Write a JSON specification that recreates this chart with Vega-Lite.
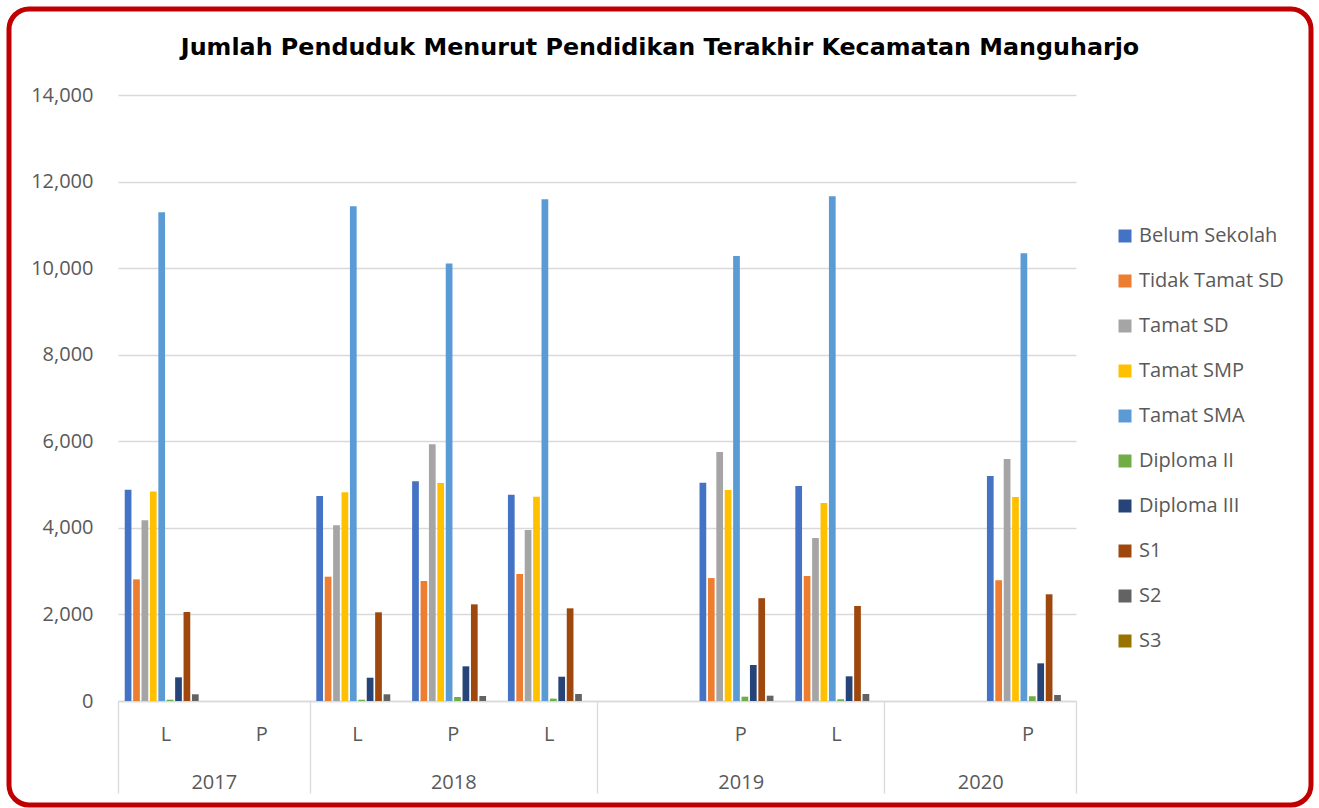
{
  "$schema": "https://vega.github.io/schema/vega-lite/v6.json",
  "width": 1302,
  "height": 796,
  "autosize": "none",
  "padding": {"left": 9, "top": 9, "right": 8, "bottom": 3},
  "background": "white",
  "title": {
    "text": "Jumlah Penduduk Menurut Pendidikan Terakhir Kecamatan Manguharjo",
    "font": "DejaVu Sans",
    "fontSize": 23.8,
    "fontWeight": "bold",
    "color": "#000000",
    "anchor": "middle",
    "frame": "group",
    "offset": -51
  },
  "datasets": {
    "edu": [
      {"slot": "2017-1", "series": "Belum Sekolah", "value": 4880},
      {"slot": "2017-1", "series": "Tidak Tamat SD", "value": 2810},
      {"slot": "2017-1", "series": "Tamat SD", "value": 4175},
      {"slot": "2017-1", "series": "Tamat SMP", "value": 4840},
      {"slot": "2017-1", "series": "Tamat SMA", "value": 11290},
      {"slot": "2017-1", "series": "Diploma II", "value": 30},
      {"slot": "2017-1", "series": "Diploma III", "value": 547},
      {"slot": "2017-1", "series": "S1", "value": 2056},
      {"slot": "2017-1", "series": "S2", "value": 155},
      {"slot": "2017-1", "series": "S3", "value": 0},

      {"slot": "2018-1", "series": "Belum Sekolah", "value": 4736},
      {"slot": "2018-1", "series": "Tidak Tamat SD", "value": 2872},
      {"slot": "2018-1", "series": "Tamat SD", "value": 4059},
      {"slot": "2018-1", "series": "Tamat SMP", "value": 4821},
      {"slot": "2018-1", "series": "Tamat SMA", "value": 11430},
      {"slot": "2018-1", "series": "Diploma II", "value": 30},
      {"slot": "2018-1", "series": "Diploma III", "value": 538},
      {"slot": "2018-1", "series": "S1", "value": 2049},
      {"slot": "2018-1", "series": "S2", "value": 155},
      {"slot": "2018-1", "series": "S3", "value": 0},

      {"slot": "2018-2", "series": "Belum Sekolah", "value": 5075},
      {"slot": "2018-2", "series": "Tidak Tamat SD", "value": 2772},
      {"slot": "2018-2", "series": "Tamat SD", "value": 5930},
      {"slot": "2018-2", "series": "Tamat SMP", "value": 5036},
      {"slot": "2018-2", "series": "Tamat SMA", "value": 10110},
      {"slot": "2018-2", "series": "Diploma II", "value": 92},
      {"slot": "2018-2", "series": "Diploma III", "value": 801},
      {"slot": "2018-2", "series": "S1", "value": 2233},
      {"slot": "2018-2", "series": "S2", "value": 115},
      {"slot": "2018-2", "series": "S3", "value": 0},

      {"slot": "2018-3", "series": "Belum Sekolah", "value": 4766},
      {"slot": "2018-3", "series": "Tidak Tamat SD", "value": 2934},
      {"slot": "2018-3", "series": "Tamat SD", "value": 3950},
      {"slot": "2018-3", "series": "Tamat SMP", "value": 4720},
      {"slot": "2018-3", "series": "Tamat SMA", "value": 11590},
      {"slot": "2018-3", "series": "Diploma II", "value": 55},
      {"slot": "2018-3", "series": "Diploma III", "value": 561},
      {"slot": "2018-3", "series": "S1", "value": 2141},
      {"slot": "2018-3", "series": "S2", "value": 162},
      {"slot": "2018-3", "series": "S3", "value": 0},

      {"slot": "2019-2", "series": "Belum Sekolah", "value": 5040},
      {"slot": "2019-2", "series": "Tidak Tamat SD", "value": 2840},
      {"slot": "2019-2", "series": "Tamat SD", "value": 5755},
      {"slot": "2019-2", "series": "Tamat SMP", "value": 4875},
      {"slot": "2019-2", "series": "Tamat SMA", "value": 10280},
      {"slot": "2019-2", "series": "Diploma II", "value": 100},
      {"slot": "2019-2", "series": "Diploma III", "value": 832},
      {"slot": "2019-2", "series": "S1", "value": 2375},
      {"slot": "2019-2", "series": "S2", "value": 123},
      {"slot": "2019-2", "series": "S3", "value": 0},

      {"slot": "2019-3", "series": "Belum Sekolah", "value": 4965},
      {"slot": "2019-3", "series": "Tidak Tamat SD", "value": 2888},
      {"slot": "2019-3", "series": "Tamat SD", "value": 3766},
      {"slot": "2019-3", "series": "Tamat SMP", "value": 4574},
      {"slot": "2019-3", "series": "Tamat SMA", "value": 11660},
      {"slot": "2019-3", "series": "Diploma II", "value": 40},
      {"slot": "2019-3", "series": "Diploma III", "value": 570},
      {"slot": "2019-3", "series": "S1", "value": 2195},
      {"slot": "2019-3", "series": "S2", "value": 162},
      {"slot": "2019-3", "series": "S3", "value": 0},

      {"slot": "2020-2", "series": "Belum Sekolah", "value": 5198},
      {"slot": "2020-2", "series": "Tidak Tamat SD", "value": 2790},
      {"slot": "2020-2", "series": "Tamat SD", "value": 5590},
      {"slot": "2020-2", "series": "Tamat SMP", "value": 4713},
      {"slot": "2020-2", "series": "Tamat SMA", "value": 10345},
      {"slot": "2020-2", "series": "Diploma II", "value": 108},
      {"slot": "2020-2", "series": "Diploma III", "value": 870},
      {"slot": "2020-2", "series": "S1", "value": 2465},
      {"slot": "2020-2", "series": "S2", "value": 139},
      {"slot": "2020-2", "series": "S3", "value": 0}
    ]
  },
  "layer": [
    {
      "data": {"name": "edu"},
      "mark": {"type": "bar"},
      "encoding": {
        "x": {
          "field": "slot",
          "type": "nominal",
          "scale": {
            "domain": ["2017-1", "2017-2", "2018-1", "2018-2", "2018-3", "2019-1", "2019-2", "2019-3", "2020-1", "2020-2"],
            "range": [109, 1067],
            "paddingInner": 0,
            "paddingOuter": 0
          },
          "axis": {
            "title": null,
            "orient": "bottom",
            "offset": -104,
            "labelExpr": "['L','P','L','P','L','','P','L','','P'][indexof(['2017-1','2017-2','2018-1','2018-2','2018-3','2019-1','2019-2','2019-3','2020-1','2020-2'], datum.value)]",
            "labelAngle": 0,
            "ticks": false,
            "domain": true,
            "domainColor": "#d9d9d9",
            "domainWidth": 1.3,
            "labelPadding": 23,
            "grid": false
          }
        },
        "xOffset": {
          "field": "series",
          "type": "nominal",
          "scale": {
            "domain": ["Belum Sekolah", "Tidak Tamat SD", "Tamat SD", "Tamat SMP", "Tamat SMA", "Diploma II", "Diploma III", "S1", "S2", "S3"],
            "paddingInner": 0.2,
            "paddingOuter": 0.8
          }
        },
        "y": {
          "field": "value",
          "type": "quantitative",
          "scale": {"domain": [0, 14000], "nice": false, "range": [692, 86]},
          "axis": {
            "title": null,
            "orient": "left",
            "offset": -109,
            "values": [0, 2000, 4000, 6000, 8000, 10000, 12000, 14000],
            "format": ",d",
            "domain": false,
            "ticks": false,
            "labelPadding": 25,
            "grid": true,
            "gridColor": "#d9d9d9",
            "gridWidth": 1.3
          }
        },
        "color": {
          "field": "series",
          "type": "nominal",
          "scale": {
            "domain": ["Belum Sekolah", "Tidak Tamat SD", "Tamat SD", "Tamat SMP", "Tamat SMA", "Diploma II", "Diploma III", "S1", "S2", "S3"],
            "range": ["#4472C4", "#ED7D31", "#A5A5A5", "#FFC000", "#5B9BD5", "#70AD47", "#264478", "#9E480E", "#636363", "#997300"]
          },
          "legend": {
            "title": null,
            "orient": "none",
            "legendX": 1106,
            "legendY": 217,
            "symbolType": "square",
            "symbolSize": 169,
            "symbolStrokeWidth": 0,
            "labelFontSize": 20,
            "labelFont": "Open Sans",
            "labelColor": "#595959",
            "rowPadding": 25,
            "labelOffset": 4
          }
        }
      }
    },
    {
      "data": {"values": [{}]},
      "mark": {"type": "point", "opacity": 0},
      "encoding": {
        "x": {
          "datum": 5,
          "type": "quantitative",
          "scale": {"domain": [0, 10], "range": [109, 1067], "nice": false, "zero": false},
          "axis": {
            "title": null,
            "orient": "bottom",
            "offset": -104,
            "values": [1, 3.5, 6.5, 9],
            "labelExpr": "datum.value == 1 ? '2017' : datum.value == 3.5 ? '2018' : datum.value == 6.5 ? '2019' : '2020'",
            "ticks": false,
            "domain": false,
            "grid": false,
            "labelPadding": 71,
            "labelFlush": false,
            "labelOverlap": false
          }
        }
      }
    },
    {
      "data": {"values": [{}]},
      "mark": {"type": "point", "opacity": 0},
      "encoding": {
        "x": {
          "datum": 5,
          "type": "quantitative",
          "scale": {"domain": [0, 10], "range": [109, 1067], "nice": false, "zero": false},
          "axis": {
            "title": null,
            "orient": "bottom",
            "offset": -104,
            "values": [0, 2, 5, 8, 10],
            "labels": false,
            "domain": false,
            "grid": false,
            "ticks": true,
            "tickSize": 92,
            "tickColor": "#d9d9d9",
            "tickWidth": 1.3
          }
        }
      }
    }
  ],
  "resolve": {"scale": {"x": "independent"}, "axis": {"x": "independent"}},
  "config": {
    "view": {"stroke": "#C00000", "strokeWidth": 5, "cornerRadius": 20, "fill": "white"},
    "axis": {"labelFont": "Open Sans", "labelFontSize": 20, "labelColor": "#595959"},
    "legend": {"labelFont": "Open Sans", "labelFontSize": 20, "labelColor": "#595959"}
  }
}
